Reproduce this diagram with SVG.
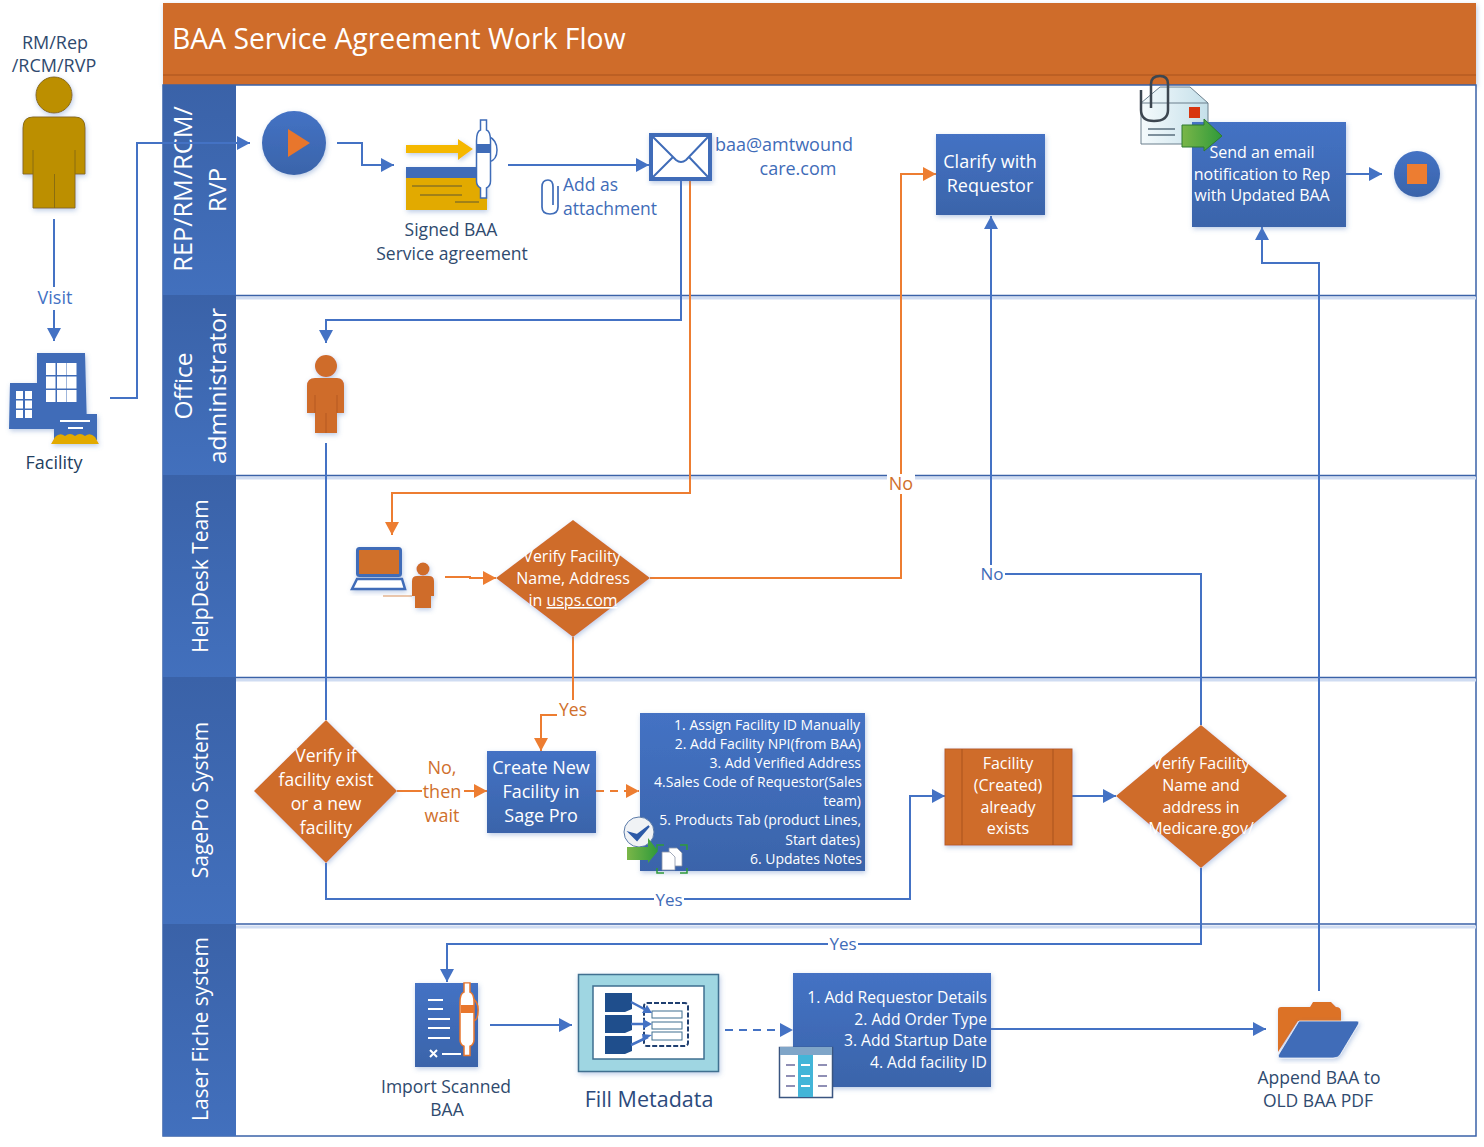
<svg xmlns="http://www.w3.org/2000/svg" width="1484" height="1147" viewBox="0 0 1484 1147">
<style>
text{font-family:"Open Sans","Noto Sans",sans-serif;font-size:16px;text-anchor:middle}
.w{fill:#fff}.d{fill:#2f4a6e}.b{fill:#3f6cb8}.o{fill:#d0702c}
.s{text-anchor:start}
.r{text-anchor:end}
.f14{font-size:14px}.f157{font-size:15.700px}.f17{font-size:17px}.f175{font-size:17.500px}.f18{font-size:18px}
.c{fill:none;stroke:#4472c4;stroke-width:2}
.co{fill:none;stroke:#ed7d31;stroke-width:2}
.dash{stroke-dasharray:8 6}
.lane{fill:none;stroke:#3a62a8;stroke-width:1.500}
.lanes{fill:none;stroke:#cfdcf2;stroke-width:3}
.hd{fill:url(#gh)}
.lt{fill:#fff;font-size:24.500px}
.lm{fill:#fff;font-size:21px}
.shadow{filter:url(#sh)}
.bg{fill:#fff}
</style>
<defs>
<linearGradient id="gb" x1="0" y1="0" x2="0" y2="1"><stop offset="0" stop-color="#4472c4"/><stop offset="1" stop-color="#3a64aa"/></linearGradient>
<linearGradient id="gh" x1="0" y1="0" x2="0" y2="1"><stop offset="0" stop-color="#3a62a8"/><stop offset="1" stop-color="#4270bd"/></linearGradient>
<linearGradient id="gg" x1="0" y1="0" x2="1" y2="0"><stop offset="0" stop-color="#7ab648"/><stop offset="1" stop-color="#2f9a3a"/></linearGradient>
<linearGradient id="ge" x1="0" y1="0" x2="1" y2="0"><stop offset="0" stop-color="#f4fafc"/><stop offset="1" stop-color="#c5e0ea"/></linearGradient>
<filter id="sh" x="-15%" y="-15%" width="130%" height="130%"><feDropShadow dx="1" dy="2" stdDeviation="2.500" flood-color="#5a7fc0" flood-opacity=".4"/></filter>
<marker id="ab" markerUnits="userSpaceOnUse" markerWidth="14" markerHeight="14" refX="13" refY="7" orient="auto"><path d="M0 0L13 7L0 14Z" fill="#4472c4"/></marker>
<marker id="ao" markerUnits="userSpaceOnUse" markerWidth="14" markerHeight="14" refX="13" refY="7" orient="auto"><path d="M0 0L13 7L0 14Z" fill="#ed7d31"/></marker>
<path id="pen" d="M-3 -13H3V-3C6 -2 7 2 7 8V48C7 52 5 54 3 55V65H-3V55C-5 54 -7 52 -7 48V8C-7 2 -6 -2 -3 -3Z"/>
</defs>

<g id="pool">
<rect x="163" y="3" width="1313" height="82" fill="#cf6c2b" class="shadow"/>
<path d="M163 75H1476" stroke="#a9521c" stroke-width="1"/>
<text x="172" y="49" class="w s" style="font-size:28.300px">BAA Service Agreement Work Flow</text>
<rect x="163" y="85" width="1313" height="1051" fill="#fff" stroke="#3a62a8" stroke-width="1.500"/>
<path class="lanes" d="M236 298H1476M236 478H1476M236 680H1476M236 927H1476"/>
<path class="lane" d="M163 295.500H1476M163 475.500H1476M163 677.500H1476M163 924H1476"/>
</g>

<g id="lane-rep"><rect class="hd" x="163" y="85" width="73" height="210"/><text class="lt" style="font-size:25.300px" transform="translate(192 189) rotate(-90)">REP/RM/RCM/</text><text class="lt" transform="translate(226 190) rotate(-90)">RVP</text></g>
<g id="lane-office"><rect class="hd" x="163" y="295" width="73" height="180"/><text class="lt" transform="translate(192 386) rotate(-90)">Office</text><text class="lt" transform="translate(226 386) rotate(-90)">administrator</text></g>
<g id="lane-helpdesk"><rect class="hd" x="163" y="475" width="73" height="202"/><text class="lm" transform="translate(208 576) rotate(-90)">HelpDesk Team</text></g>
<g id="lane-sagepro"><rect class="hd" x="163" y="677" width="73" height="247"/><text class="lm" transform="translate(208 800) rotate(-90)">SagePro System</text></g>
<g id="lane-laser"><rect class="hd" x="163" y="924" width="73" height="212"/><text class="lm" transform="translate(208 1029) rotate(-90)">Laser Fiche system</text></g>

<g id="connectors">
<path class="c" d="M54 219V341" marker-end="url(#ab)"/>
<path class="c" d="M110 398H137V143H250" marker-end="url(#ab)"/>
<path class="c" d="M337 143H362V165H394" marker-end="url(#ab)"/>
<path class="c" d="M508 165H649" marker-end="url(#ab)"/>
<path class="c" d="M681 181V320H326V343" marker-end="url(#ab)"/>
<path class="co" d="M690 181V493H392V535" marker-end="url(#ao)"/>
<path class="co" d="M445 577H470V578H496" marker-end="url(#ao)"/>
<path class="co" d="M650 578H901V174H936" marker-end="url(#ao)"/>
<path class="co" d="M573 637V715H541V751" marker-end="url(#ao)"/>
<path class="c" d="M326 443V720"/>
<path class="co" d="M397 791H487" marker-end="url(#ao)"/>
<path class="co dash" d="M596 791H639" marker-end="url(#ao)"/>
<path class="c" d="M326 863V899H910V796H945" marker-end="url(#ab)"/>
<path class="c" d="M1072 796H1116" marker-end="url(#ab)"/>
<path class="c" d="M1201 725V574H991V216" marker-end="url(#ab)"/>
<path class="c" d="M1201 868V944H447V982" marker-end="url(#ab)"/>
<path class="c" d="M490 1025H572" marker-end="url(#ab)"/>
<path class="c dash" d="M725 1030H793" marker-end="url(#ab)"/>
<path class="c" d="M991 1029H1266" marker-end="url(#ab)"/>
<path class="c" d="M1319 991V263H1262V227" marker-end="url(#ab)"/>
<path class="c" d="M1346 174H1382" marker-end="url(#ab)"/>
<rect class="bg" x="34" y="287" width="42" height="23"/><text x="55" y="304" class="f18" style="fill:#4472c4">Visit</text>
<rect class="bg" x="887" y="474" width="28" height="20"/><text x="901" y="490" class="f18" style="fill:#d0702c">No</text>
<rect class="bg" x="557" y="700" width="32" height="20"/><text x="573" y="716" class="f175" style="fill:#d0702c">Yes</text>
<rect class="bg" x="422" y="756" width="42" height="70"/><text x="442" y="774" class="f18" style="fill:#d0702c">No,</text><text x="442" y="798" class="f18" style="fill:#d0702c">then</text><text x="442" y="822" class="f18" style="fill:#d0702c">wait</text>
<rect class="bg" x="654" y="891" width="30" height="18"/><text x="669" y="906" class="b f17">Yes</text>
<rect class="bg" x="979" y="565" width="26" height="18"/><text x="992" y="580" class="b f17">No</text>
<rect class="bg" x="828" y="935" width="30" height="18"/><text x="843" y="950" class="b f17">Yes</text>
</g>

<g id="actor-rep">
<text x="55" y="49" class="d f18">RM/Rep</text><text x="54" y="72" class="d f18">/RCM/RVP</text>
<g class="shadow" fill="#bc8f00" stroke="#8a6d10" stroke-width="1"><circle cx="54" cy="95" r="18"/><path d="M33 117H75Q85 117 85 128V174H75V208H33V174H23V128Q23 117 33 117Z"/></g>
<path d="M33 150V174M75 150V174M54.500 174V208" stroke="#8a6d10" fill="none"/>
</g>

<g id="facility">
<g class="shadow">
<path d="M37 353H85L87 429H9L10 383H37Z" fill="#3f6cb8"/>
<g fill="#fff"><rect x="46" y="363" width="9.500" height="12"/><rect x="57" y="363" width="9.500" height="12"/><rect x="67" y="363" width="9.500" height="12"/><rect x="46" y="376.500" width="9.500" height="12"/><rect x="57" y="376.500" width="9.500" height="12"/><rect x="67" y="376.500" width="9.500" height="12"/><rect x="46" y="390" width="9.500" height="12"/><rect x="57" y="390" width="9.500" height="12"/><rect x="67" y="390" width="9.500" height="12"/><rect x="16" y="391" width="7" height="8"/><rect x="25" y="391" width="7" height="8"/><rect x="16" y="400.500" width="7" height="8"/><rect x="25" y="400.500" width="7" height="8"/><rect x="16" y="410" width="7" height="8"/><rect x="25" y="410" width="7" height="8"/></g>
<rect x="54" y="414" width="43" height="26" fill="#3f6cb8"/>
<path d="M60 421H90M68 428H83" stroke="#fff" stroke-width="2"/>
<path d="M51 444L55 437Q60 432 65 436Q70 432 75 436Q80 432 85 436Q90 432 95 437L99 444Z" fill="#e2aa00"/>
</g>
<text x="54" y="469" class="f18" style="fill:#23405f">Facility</text>
</g>

<g id="start"><circle class="shadow" cx="294" cy="143" r="32" fill="url(#gb)"/><path d="M288 129L310 143L288 157Z" fill="#e8762c"/></g>

<g id="signed-baa">
<g class="shadow"><path d="M406 145H458V139L473 149L458 160V153H406Z" fill="#f5b800"/>
<rect x="406" y="167" width="81" height="11" fill="#3f6cb8"/><rect x="406" y="178" width="81" height="32" fill="#e2aa00"/></g>
<path d="M412 186H462M420 195H462M455 202H479" stroke="#8c7420" stroke-width="1.300"/>
<path d="M488 136Q497 140 497 150Q497 160 489 162" fill="none" stroke="#3f6cb8" stroke-width="1.500"/>
<use href="#pen" x="483.500" y="133" fill="#fff" stroke="#3f6cb8" stroke-width="1.500"/>
<rect x="477" y="144" width="14" height="9" fill="#3f6cb8"/>
<text x="451" y="236" class="d f175">Signed BAA</text><text x="452" y="260" class="d f175">Service agreement</text>
</g>

<g id="email">
<rect x="651" y="135" width="59" height="44" fill="#fff" stroke="#3f6cb8" stroke-width="4" class="shadow"/>
<path d="M653 137L676 160Q681 164 686 160L708 137M653 177L673 157M708 177L689 157" fill="none" stroke="#3f6cb8" stroke-width="2"/>
<text x="784" y="151" class="b f18">baa@amtwound</text><text x="798" y="175" class="b f18">care.com</text>
</g>

<g id="attachment">
<path d="M558 186V207Q558 214 550 214Q542 214 542 207V187Q542 180 548 180Q553 180 553 187V205" fill="none" stroke="#3f6cb8" stroke-width="1.700"/>
<text x="563" y="191" class="b s f175">Add as</text><text x="563" y="215" class="b s f175">attachment</text>
</g>

<g id="clarify"><rect class="shadow" x="936" y="134" width="109" height="81" fill="url(#gb)"/><text x="990" y="168" class="w f18">Clarify with</text><text x="990" y="192" class="w f18">Requestor</text></g>

<g id="send-email">
<path d="M1141 103L1160 87H1190L1208 103V144H1141Z" fill="url(#ge)" stroke="#6b7f8c" stroke-width="1"/>
<path d="M1141 103H1208" stroke="#6b7f8c" fill="none"/>
<rect x="1189" y="107" width="11" height="11" fill="#d8350f"/>
<path d="M1148 129H1175M1148 135H1175" stroke="#5a6f7d" stroke-width="1.500"/>
<rect class="shadow" x="1192" y="122" width="154" height="105" fill="url(#gb)"/>
<path d="M1182 125H1204V119L1222 136L1204 151V147H1182Z" fill="url(#gg)" stroke="#2f7a30" stroke-width="1"/>
<path d="M1141 90V110Q1141 121 1154 121Q1168 121 1168 110V84Q1168 76 1160 76Q1151 76 1151 84V108" fill="none" stroke="#3c4650" stroke-width="2.500"/>
<text x="1262" y="158" class="w">Send an email</text><text x="1262" y="180" class="w">notification to Rep</text><text x="1262" y="201" class="w">with Updated BAA</text>
</g>

<g id="stop"><circle class="shadow" cx="1417" cy="174" r="23" fill="url(#gb)"/><rect x="1407" y="164" width="20" height="20" fill="#ed7d31"/></g>

<g id="office-admin">
<g class="shadow" fill="#cf6c2b"><circle cx="326" cy="366" r="11"/><path d="M315 378H337Q344 378 344 386V413H337V433H315V413H307V386Q307 378 315 378Z"/></g>
<path d="M315 395V413M337 395V413M326 413V433" stroke="#a9521c" fill="none" stroke-width=".7"/>
</g>

<g id="helpdesk-user">
<g class="shadow"><rect x="357.500" y="548.500" width="43" height="27" rx="2" fill="#d0702c" stroke="#3f6cb8" stroke-width="3"/>
<path d="M357 579H402L405 589H352Z" fill="#fff" stroke="#3f6cb8" stroke-width="2.500"/></g>
<path d="M383 596H412" stroke="#d8905a" stroke-width="1"/>
<g class="shadow" fill="#cf6c2b"><circle cx="423" cy="569" r="6.500"/><path d="M417 576H429Q434 576 434 581V596H431V608H415V596H412V581Q412 576 417 576Z"/></g>
</g>

<g id="verify-usps"><path class="shadow" d="M573 520L650 578L573 637L496 578Z" fill="#cf6c2b"/><text x="572" y="562" class="w">Verify Facility</text><text x="573" y="584" class="w">Name, Address</text><text x="573" y="606" class="w">in <tspan text-decoration="underline">usps.com</tspan></text></g>

<g id="verify-exist"><path class="shadow" d="M326 720L397 791L326 863L254 791Z" fill="#cf6c2b"/><text x="326" y="762" class="w f175">Verify if</text><text x="326" y="786" class="w f175">facility exist</text><text x="326" y="810" class="w f175">or a new</text><text x="326" y="834" class="w f175">facility</text></g>

<g id="create-facility"><rect class="shadow" x="487" y="751" width="109" height="82" fill="url(#gb)"/><text x="541" y="774" class="w f18">Create New</text><text x="541" y="798" class="w f18">Facility in</text><text x="541" y="822" class="w f18">Sage Pro</text></g>

<g id="steps-sage">
<rect class="shadow" x="640" y="713" width="225" height="158" fill="url(#gb)"/>
<text class="w r f14" x="860" y="730">1. Assign Facility ID Manually</text><text class="w r f14" x="861" y="749">2. Add Facility NPI(from BAA)</text><text class="w r f14" x="861" y="768">3. Add Verified Address</text><text class="w r f14" x="862" y="787">4.Sales Code of Requestor(Sales</text><text class="w r f14" x="861" y="806">team)</text><text class="w r f14" x="861" y="825">5. Products Tab (product Lines,</text><text class="w r f14" x="860" y="845">Start dates)</text><text class="w r f14" x="862" y="864">6. Updates Notes</text>
<circle cx="639" cy="832" r="15" fill="#f0f2f5" stroke="#5a7aa8" stroke-width="1"/><path d="M630 833L637 840L649 826L637 835Z" fill="#2d5aa8" stroke="#2d5aa8" stroke-width="2"/>
<path d="M627 847H648V838L658 851L648 863V860H627Z" fill="url(#gg)"/>
<path d="M657 850V845H664M680 845H687V850M687 868V873H680M664 873H657V868" fill="none" stroke="#2f9a3a" stroke-width="1.500"/>
<path d="M669 848H677L682 853V866H669Z" fill="#fff" stroke="#8a94a8" stroke-width=".8"/>
<path d="M662 852H670L675 857V870H662Z" fill="#fff" stroke="#8a94a8" stroke-width=".8"/>
</g>

<g id="facility-created"><rect class="shadow" x="945" y="749" width="127" height="96" fill="#cf6c2b" stroke="#b85f24" stroke-width="1"/><path d="M962 749V845M1053 749V845" stroke="#a9521c" stroke-width="1"/><text x="1008" y="769" class="w">Facility</text><text x="1008" y="791" class="w">(Created)</text><text x="1008" y="813" class="w">already</text><text x="1008" y="834" class="w">exists</text></g>

<g id="verify-medicare"><path class="shadow" d="M1201 725L1287 796L1201 868L1116 796Z" fill="#cf6c2b"/><text x="1201" y="769" class="w">Verify Facility</text><text x="1201" y="791" class="w">Name and</text><text x="1201" y="813" class="w">address in</text><text x="1201" y="834" class="w">Medicare.gov/</text></g>

<g id="import-baa">
<rect class="shadow" x="415" y="983" width="63" height="84" fill="url(#gb)"/>
<path d="M428 1000H443M428 1009H443M428 1019H450M428 1028H450M428 1038H450M442 1054H461" stroke="#fff" stroke-width="2"/>
<path d="M430 1050L437 1057M437 1050L430 1057" stroke="#fff" stroke-width="2"/>
<path d="M472 998Q479 1002 478 1012Q478 1020 473 1021" fill="none" stroke="#e8762c" stroke-width="1.500"/>
<use href="#pen" transform="translate(467 995) scale(1 .93)" fill="#fff" stroke="#e8762c" stroke-width="1.500"/>
<rect x="461" y="1005" width="13" height="8" fill="#e8762c"/>
<text x="446" y="1093" class="d f175">Import Scanned</text><text x="447" y="1116" class="d f175">BAA</text>
</g>

<g id="fill-metadata">
<rect class="shadow" x="578.500" y="974.500" width="140" height="97" fill="#9fd6e2" stroke="#3f6f90" stroke-width="1.500"/>
<rect x="593" y="986" width="111" height="73" fill="#fff" stroke="#3f6f90" stroke-width="1.500"/>
<g fill="#1f4e8c"><path d="M605 993H632V1009L625 1012H605Z"/><path d="M605 1015H632V1030L625 1033H605Z"/><path d="M605 1036H632V1051L625 1054H605Z"/></g>
<rect x="644" y="1003" width="44" height="43" rx="3" fill="none" stroke="#1f3f70" stroke-width="2" stroke-dasharray="5 2"/>
<g fill="#fff" stroke="#3f6f90" stroke-width="1"><rect x="652" y="1011" width="30" height="7"/><rect x="652" y="1022" width="30" height="7"/><rect x="652" y="1032" width="30" height="8"/></g>
<path d="M631 1002L648 1011M631 1024H648M631 1045L648 1037" stroke="#4472c4" stroke-width="2.500"/>
<path d="M652 1013L642 1013L647 1005ZM652 1024L643 1029L643 1019ZM652 1035L643 1041L642 1034Z" fill="#4472c4"/>
<text x="649" y="1107" style="fill:#2c4a7c;font-size:21.500px">Fill Metadata</text>
</g>

<g id="steps-laser">
<rect class="shadow" x="793" y="973" width="198" height="114" fill="url(#gb)"/>
<text x="987" y="1003" class="w r f157">1. Add Requestor Details</text><text x="987" y="1025" class="w r f157">2. Add Order Type</text><text x="987" y="1046" class="w r f157">3. Add Startup Date</text><text x="987" y="1068" class="w r f157">4. Add facility ID</text>
<rect x="779.500" y="1047.500" width="53" height="50" fill="#fff" stroke="#3a5580" stroke-width="1.500"/>
<rect x="780" y="1047" width="52" height="8" fill="#7fa5c8"/>
<rect x="798" y="1055" width="15" height="42" fill="#43b5d8"/>
<path d="M786 1065H795M786 1076H795M786 1086H795M818 1065H827M818 1076H827M818 1086H827" stroke="#8f8fb5" stroke-width="2"/>
<path d="M801 1065H810M801 1076H810M801 1086H810" stroke="#fff" stroke-width="2"/>
</g>

<g id="append-baa">
<path class="shadow" d="M1281 1007H1310L1313 1002H1331L1336 1007Q1341 1007 1341 1012V1021H1298L1278 1052V1010Q1278 1007 1281 1007Z" fill="#dc7228"/>
<path class="shadow" d="M1299 1021H1357Q1360 1021 1358 1025L1340 1055Q1338 1058 1333 1058H1281Q1277 1058 1279 1054Z" fill="#3f6cb8" stroke="#fff" stroke-width=".7"/>
<text x="1319" y="1084" class="d f175">Append BAA to</text><text x="1318" y="1107" class="d f175">OLD BAA PDF</text>
</g>
</svg>
